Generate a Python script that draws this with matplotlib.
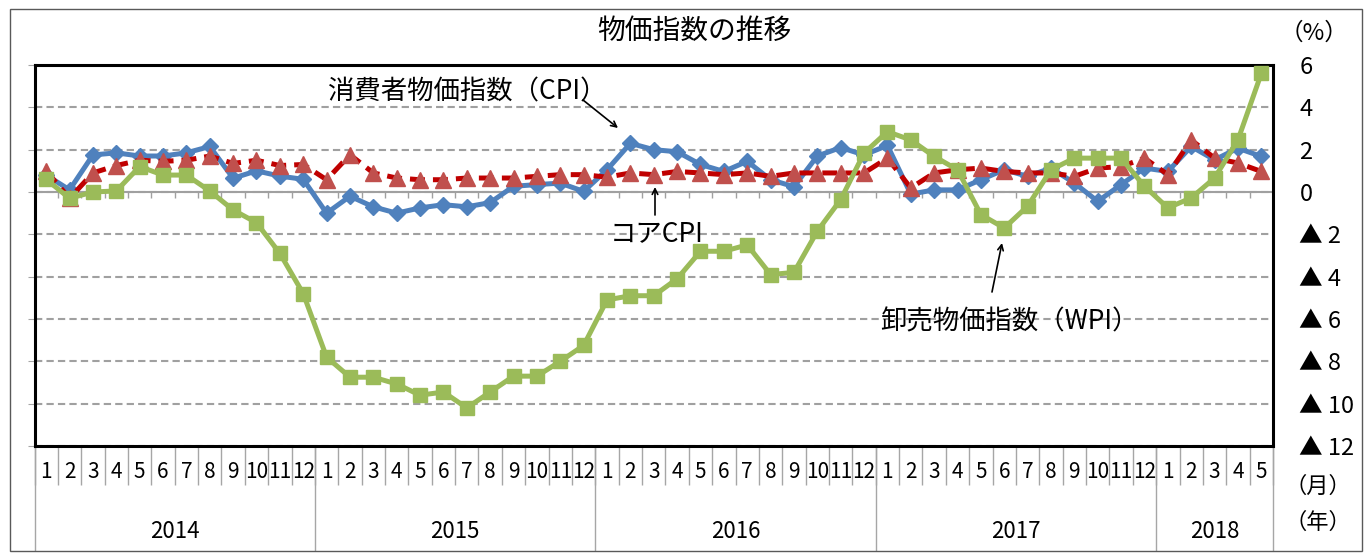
import numpy as np
import matplotlib
matplotlib.use('Agg')
import matplotlib.pyplot as plt
import matplotlib.transforms as mtransforms
from matplotlib.patches import Rectangle

plt.rcParams['font.family'] = ['Noto Sans CJK JP', 'DejaVu Sans']

# Datos (variación interanual, %), ene-2014 a may-2018
meses = [str(m) for m in range(1, 13)] * 4 + ['1', '2', '3', '4', '5']
anos = ['2014', '2015', '2016', '2017', '2018']
meses_por_ano = [12, 12, 12, 12, 5]

cpi = [0.8, 0.1, 1.75, 1.85, 1.7, 1.7, 1.85, 2.15, 0.65, 1.0, 0.75, 0.6,
       -1.0, -0.2, -0.7, -1.0, -0.75, -0.6, -0.7, -0.5, 0.27, 0.35, 0.42, 0.03,
       1.05, 2.3, 2.0, 1.9, 1.3, 0.97, 1.45, 0.58, 0.25, 1.7, 2.1, 1.75,
       2.2, -0.1, 0.1, 0.1, 0.58, 1.05, 0.74, 1.13, 0.42, -0.44, 0.35, 1.13,
       0.97, 2.15, 1.52, 2.07, 1.68]
core = [1.0, -0.3, 0.9, 1.25, 1.5, 1.45, 1.5, 1.7, 1.35, 1.5, 1.25, 1.3,
        0.58, 1.76, 0.9, 0.66, 0.58, 0.58, 0.66, 0.66, 0.66, 0.74, 0.82, 0.82,
        0.7, 0.9, 0.82, 0.97, 0.9, 0.82, 0.9, 0.74, 0.9, 0.9, 0.9, 0.9,
        1.6, 0.19, 0.9, 1.05, 1.13, 0.97, 0.9, 0.9, 0.74, 1.13, 1.2, 1.6,
        0.82, 2.46, 1.6, 1.37, 0.97]
wpi = [0.6, -0.3, 0.0, 0.05, 1.2, 0.8, 0.8, 0.05, -0.85, -1.45, -2.9, -4.8,
       -7.8, -8.75, -8.75, -9.07, -9.6, -9.45, -10.2, -9.45, -8.7, -8.7, -8.0, -7.25,
       -5.1, -4.9, -4.9, -4.1, -2.8, -2.8, -2.5, -3.9, -3.8, -1.85, -0.36, 1.84,
       2.85, 2.46, 1.68, 1.05, -1.07, -1.7, -0.67, 1.05, 1.6, 1.6, 1.6, 0.27,
       -0.75, -0.28, 0.66, 2.46, 5.6]

yticks = [6, 4, 2, 0, -2, -4, -6, -8, -10, -12]
yticklabels = ['6', '4', '2', '0', '▲ 2', '▲ 4', '▲ 6', '▲ 8', '▲ 10', '▲ 12']

W, H = 1364, 553
gris = '#A6A6A6'

def px(x, y):
    # coordenadas en pixeles (origen arriba a la izquierda) -> figure pixels
    return (x, H - y)

fig = plt.figure(figsize=(W / 100, H / 100), dpi=100)
ax = fig.add_axes([34.5 / W, 1 - 446 / H, (1273 - 34.5) / W, (446 - 65) / H])

n = len(cpi)
x = np.arange(n)

ax.plot(x, cpi, color='#4F81BD', lw=3.6, marker='D', ms=8.5, mfc='#4F81BD', mec='#4F81BD', zorder=3)
ax.plot(x, core, color='#C00000', lw=3.6, ls=(0, (3, 1.6)), marker='^', ms=11,
        mfc='#C0504D', mec='#C0504D', zorder=4)
ax.plot(x, wpi, color='#9BBB59', lw=3.6, marker='s', ms=9.5, mfc='#9BBB59', mec='#9BBB59', zorder=5)

ax.set_xlim(-0.5, n - 0.5)
ax.set_ylim(-12, 6)

# grilla y eje en cero
ax.set_yticks(yticks)
ax.set_yticklabels(yticklabels)
ax.yaxis.grid(True, color='#A0A0A0', lw=1.5, ls=(0, (3.5, 2)))
ax.set_axisbelow(True)
ax.axhline(0, color='#A0A0A0', lw=1.5, zorder=1.5)
limites = np.arange(-0.5, n, 1)
ax.vlines(limites[1:-1], -0.3, 0, color='#A0A0A0', lw=1, zorder=1.5)

ax.tick_params(axis='y', left=True, right=False, labelleft=False, labelright=True,
               direction='out', length=5, color=gris, labelsize=17, pad=14)

# eje x: meses y separadores
ax.set_xticks(limites)
ax.set_xticklabels([])
ax.set_xticks(x, minor=True)
ax.set_xticklabels(meses, minor=True)
ax.tick_params(axis='x', which='major', direction='out', length=28, color=gris, width=1)
ax.tick_params(axis='x', which='minor', length=0, labelsize=15, pad=11)

trans = mtransforms.blended_transform_factory(ax.transData, ax.transAxes)
bordes = np.concatenate([[0], np.cumsum(meses_por_ano)]) - 0.5
for b in bordes:
    ax.plot([b, b], [0, -104 / 381], transform=trans, clip_on=False, color=gris, lw=1)
for i, ano in enumerate(anos):
    ax.text((bordes[i] + bordes[i + 1]) / 2, -86 / 381, ano, transform=trans,
            ha='center', va='center', fontsize=16)

for s in ax.spines.values():
    s.set_linewidth(2.2)
    s.set_color('black')

# textos
fig.text(694 / W, 1 - 31 / H, '物価指数の推移', ha='center', va='center', fontsize=20)
fig.text(1314 / W, 1 - 33 / H, '（%）', ha='center', va='center', fontsize=17)
fig.text(1318 / W, 1 - 486 / H, '（月）', ha='center', va='center', fontsize=16)
fig.text(1318 / W, 1 - 522 / H, '（年）', ha='center', va='center', fontsize=16)

flecha = dict(arrowstyle='->', color='black', lw=1.2, shrinkA=0, shrinkB=0)
ax.annotate('', xy=px(618, 128), xytext=px(583, 100), xycoords='figure pixels',
            textcoords='figure pixels', arrowprops=flecha)
ax.annotate('', xy=px(655, 187), xytext=px(655, 215), xycoords='figure pixels',
            textcoords='figure pixels', arrowprops=flecha)
ax.annotate('', xy=px(1002, 243), xytext=px(992, 292), xycoords='figure pixels',
            textcoords='figure pixels', arrowprops=flecha)
fig.text(328 / W, 1 - 92 / H, '消費者物価指数（CPI）', ha='left', va='center', fontsize=19)
fig.text(610 / W, 1 - 234 / H, 'コアCPI', ha='left', va='center', fontsize=19)
fig.text(880 / W, 1 - 322 / H, '卸売物価指数（WPI）', ha='left', va='center', fontsize=19)

# marco exterior
fig.patches.append(Rectangle((10 / W, 2 / H), (1362 - 10) / W, (551 - 9) / H,
                             transform=fig.transFigure, fill=False, ec='#595959', lw=1))

plt.savefig('out.png', dpi=100)
